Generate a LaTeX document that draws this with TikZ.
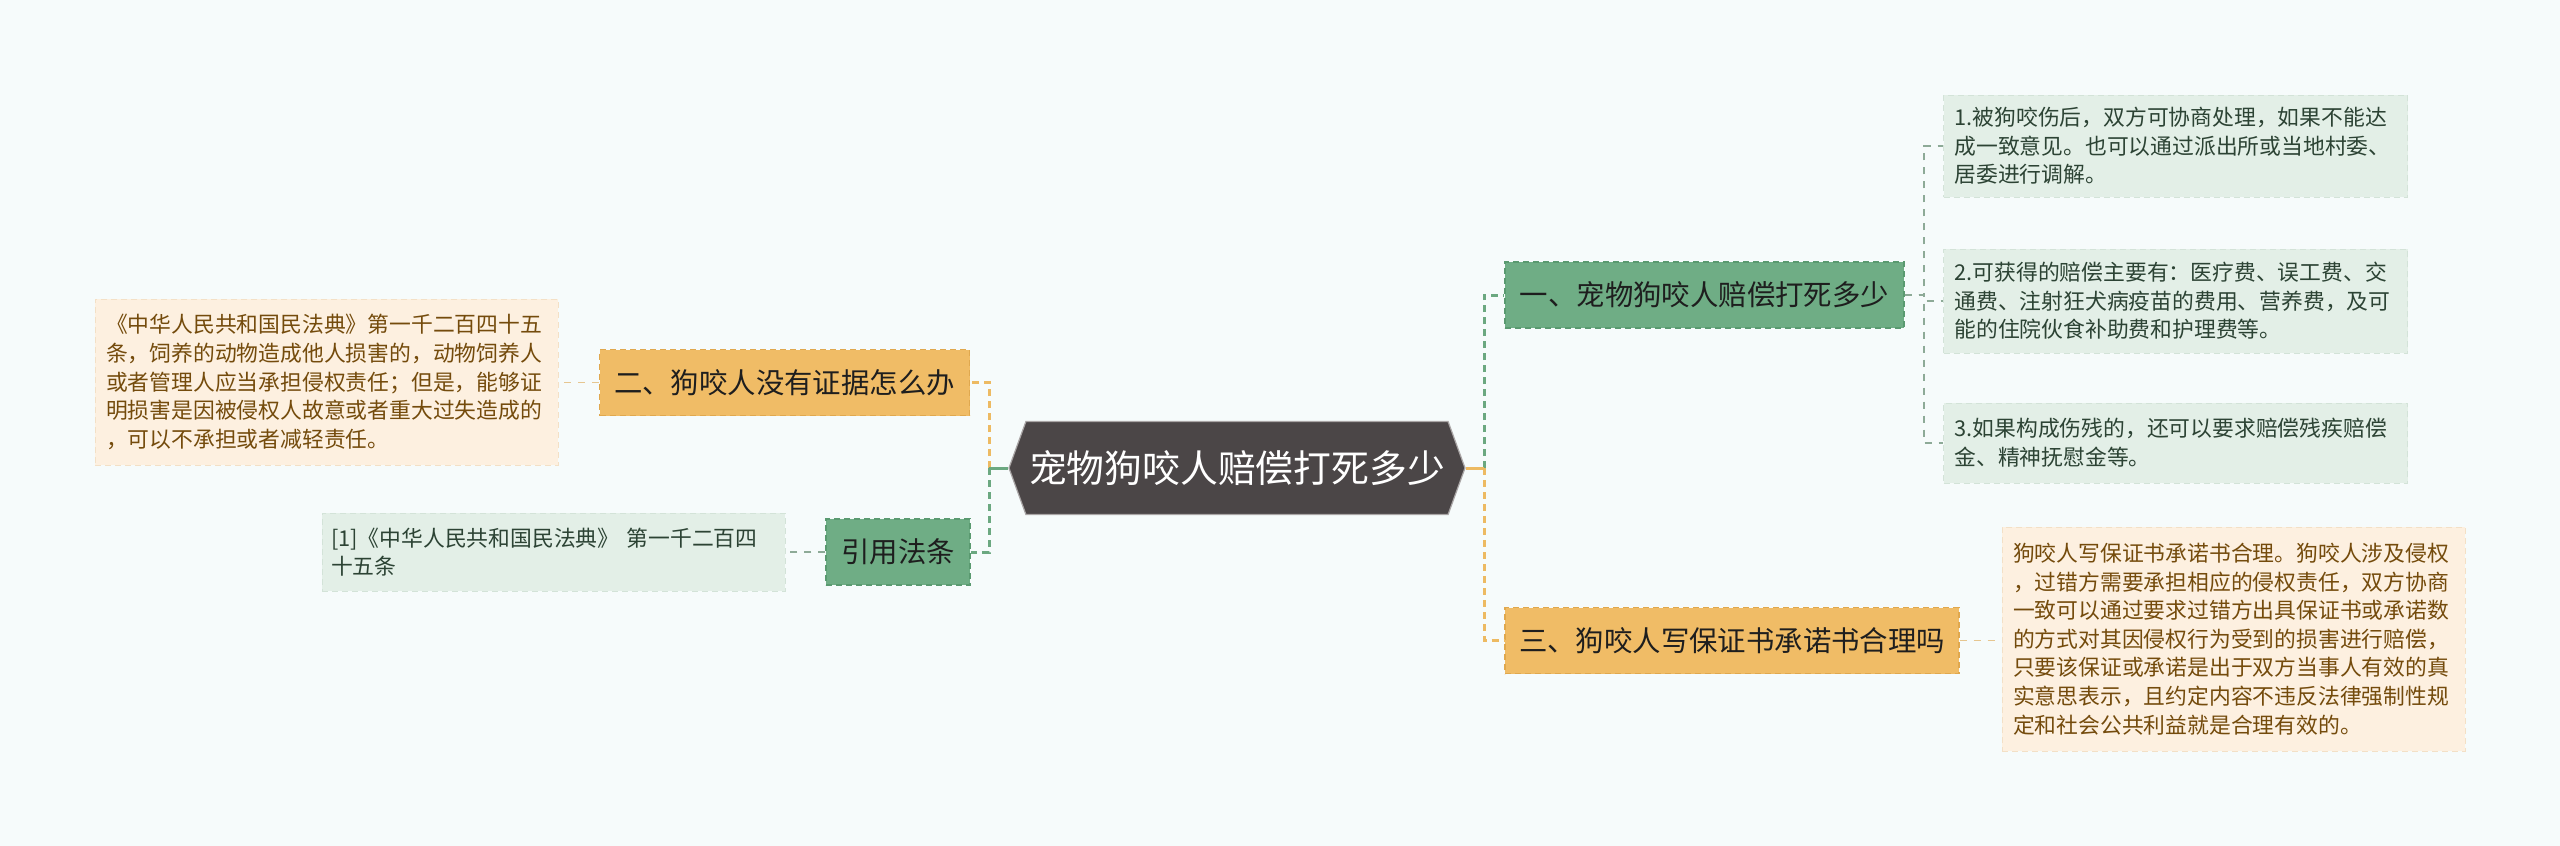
\documentclass[tikz,border=0pt]{standalone}
\usepackage{fontspec}
\setmainfont{Noto Sans CJK SC}
\usetikzlibrary{shapes.symbols,calc}
\definecolor{bg}{HTML}{F6FBFB}
\definecolor{cdark}{HTML}{4B4647}
\definecolor{cborder}{HTML}{A9A5A5}
\definecolor{gfill}{HTML}{6FAD85}
\definecolor{gborder}{HTML}{5A9A70}
\definecolor{ofill}{HTML}{F0BC66}
\definecolor{oborder}{HTML}{E0A84E}
\definecolor{lgfill}{HTML}{E3EFE7}
\definecolor{lgborder}{HTML}{D3E3D8}
\definecolor{lgtext}{HTML}{2C4334}
\definecolor{lofill}{HTML}{FDF0E0}
\definecolor{loborder}{HTML}{F3E0C6}
\definecolor{lotext}{HTML}{744B0C}
\definecolor{midtext}{HTML}{1E1E1E}
\definecolor{gline}{HTML}{6BA880}
\definecolor{oline}{HTML}{EDBA62}
\definecolor{lline}{HTML}{8DAA97}
\definecolor{loline}{HTML}{E6C690}
\begin{document}
\begin{tikzpicture}[x=0.5pt,y=-0.5pt,
  central/.style={signal, signal to=west and east, signal pointer angle=140,
    fill=cdark, draw=cborder, line width=0.6pt, minimum width=228pt,
    minimum height=46.5pt, text=white, inner sep=0pt,
    font=\fontsize{18.9pt}{22pt}\selectfont},
  midbox/.style={rectangle, line width=0.6pt, dash pattern=on 3pt off 2pt,
    inner sep=0pt, text=midtext, font=\fontsize{14.2pt}{17pt}\selectfont},
  midg/.style={midbox, fill=gfill, draw=gborder},
  mido/.style={midbox, fill=ofill, draw=oborder},
  leafbox/.style={rectangle, line width=0.5pt, dash pattern=on 3pt off 2pt,
    inner xsep=5.5pt, inner ysep=0pt, text width=221pt, align=left,
    font=\fontsize{10.9pt}{14.3pt}\selectfont},
  leafg/.style={leafbox, fill=lgfill, draw=lgborder, text=lgtext},
  leafo/.style={leafbox, fill=lofill, draw=loborder, text=lotext},
  cg/.style={draw=gline, line width=1.5pt, dash pattern=on 3.5pt off 2.5pt},
  co/.style={draw=oline, line width=1.5pt, dash pattern=on 3.5pt off 2.5pt},
  cl/.style={draw=lline, line width=0.75pt, dash pattern=on 3.5pt off 3.5pt},
  clo/.style={draw=loline, line width=0.75pt, dash pattern=on 3.5pt off 3.5pt},
  clg/.style={draw=lline, line width=0.75pt, dash pattern=on 3.5pt off 3.5pt},
  stubg/.style={draw=gline, line width=1.5pt},
  stubo/.style={draw=oline, line width=1.5pt}
]
\fill[bg] (0,0) rectangle (2560,846);
\useasboundingbox (0,0) rectangle (2560,846);

% central
\node[central] (c) at (1237,468) {宠物狗咬人赔偿打死多少};

% mid nodes
\node[midg, minimum width=199.5pt, minimum height=33pt] (n1) at (1704.5,295) {一、宠物狗咬人赔偿打死多少};
\node[mido, minimum width=227pt, minimum height=33pt] (n3) at (1732,640.5) {三、狗咬人写保证书承诺书合理吗};
\node[mido, minimum width=185pt, minimum height=33pt] (n2) at (784.5,382.5) {二、狗咬人没有证据怎么办};
\node[midg, minimum width=72pt, minimum height=33pt] (n4) at (898,552) {引用法条};

% leaves
\node[leafg, minimum height=51pt] (l1) at (2175.5,146) {1.被狗咬伤后，双方可协商处理，如果不能达\\成一致意见。也可以通过派出所或当地村委、\\居委进行调解。};
\node[leafg, minimum height=52pt] (l2) at (2175.5,301) {2.可获得的赔偿主要有：医疗费、误工费、交\\通费、注射狂犬病疫苗的费用、营养费，及可\\能的住院伙食补助费和护理费等。};
\node[leafg, minimum height=40pt] (l3) at (2175.5,443) {3.如果构成伤残的，还可以要求赔偿残疾赔偿\\金、精神抚慰金等。};
\node[leafo, text width=220.5pt, minimum height=112pt] (lr) at (2233.5,639) {狗咬人写保证书承诺书合理。狗咬人涉及侵权\\，过错方需要承担相应的侵权责任，双方协商\\一致可以通过要求过错方出具保证书或承诺数\\的方式对其因侵权行为受到的损害进行赔偿，\\只要该保证或承诺是出于双方当事人有效的真\\实意思表示，且约定内容不违反法律强制性规\\定和社会公共利益就是合理有效的。};
\node[leafo, text width=220.5pt, minimum height=83pt] (ll) at (326.5,382) {《中华人民共和国民法典》第一千二百四十五\\条，饲养的动物造成他人损害的，动物饲养人\\或者管理人应当承担侵权责任；但是，能够证\\明损害是因被侵权人故意或者重大过失造成的\\，可以不承担或者减轻责任。};
\node[leafg, text width=222.5pt, inner xsep=4.5pt, minimum height=39pt] (l4) at (553.5,552) {[1]《中华人民共和国民法典》 第一千二百四\\十五条};

% trunks
\coordinate (tl) at (989,468);
\coordinate (tr) at (1484,468);
\coordinate (t1) at (1924,295);

\draw[co] (tl) |- (n2.east);
\draw[cg] (tl) |- (n4.east);
\draw[stubg] (c.west) -- (tl);
\draw[cg] (tr) |- (n1.west);
\draw[co] (tr) |- (n3.west);
\draw[stubo] (c.east) -- (tr);

\draw[cl] (n1.east) -- (t1) |- (l1.west);
\draw[cl] (n1.east) -- (t1) |- (l2.west);
\draw[cl] (n1.east) -- (t1) |- (l3.west);
\draw[clo] (n3.east) -- (n3.east -| lr.west);
\draw[clo] (n2.west) -- (n2.west -| ll.east);
\draw[clg] (n4.west) -- (n4.west -| l4.east);
\end{tikzpicture}
\end{document}
